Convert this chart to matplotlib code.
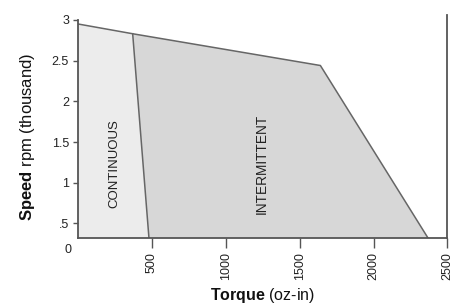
import matplotlib
matplotlib.use("Agg")
import matplotlib.pyplot as plt

plt.rcParams["font.family"] = ["Liberation Sans", "DejaVu Sans"]
plt.rcParams["mathtext.fontset"] = "custom"
plt.rcParams["mathtext.rm"] = "Liberation Sans"
plt.rcParams["mathtext.bf"] = "Liberation Sans:bold"

# envelope of the speed/torque curve (torque oz-in, speed thousand rpm)
env_torque = [0, 370, 1640, 2367]
env_speed = [2.95, 2.83, 2.44, 0.325]
# continuous boundary
cont_torque = [370, 480]
cont_speed = [2.83, 0.325]

y_ticks = [0.5, 1, 1.5, 2, 2.5, 3]
y_labels = [".5", "1", "1.5", "2", "2.5", "3"]
x_ticks = [500, 1000, 1500, 2000, 2500]
x_labels = ["500", "1000", "1500", "2000", "2500"]

y_min, y_max = 0.325, 3.06
x_min, x_max = 0, 2500

fig = plt.figure(figsize=(4.55, 3.04), dpi=100)
ax = fig.add_axes([0.1714, 0.218, 0.8121, 0.7326])

line_col = "#666666"
# continuous region
ax.fill([0, 0, cont_torque[0], cont_torque[1]],
        [y_min, env_speed[0], cont_speed[0], cont_speed[1]],
        color="#ececec", lw=0)
# intermittent region
ax.fill([cont_torque[0], env_torque[2], env_torque[3], cont_torque[1]],
        [cont_speed[0], env_speed[2], env_speed[3], cont_speed[1]],
        color="#d7d7d7", lw=0)
ax.plot(env_torque, env_speed, color=line_col, lw=1.1)
ax.plot(cont_torque, cont_speed, color=line_col, lw=1.1)

ax.text(246, 1.23, "CONTINUOUS", rotation=90, ha="center", va="center",
        fontsize=9.5, color="#222222")
ax.text(1243, 1.23, "INTERMITTENT", rotation=90, ha="center", va="center",
        fontsize=9.8, color="#222222")

ax.set_xlim(x_min, x_max)
ax.set_ylim(y_min, y_max)

for s in ["left", "bottom", "right"]:
    ax.spines[s].set_color("#555555")
    ax.spines[s].set_linewidth(1.3)
ax.spines["top"].set_visible(False)
ax.spines["left"].set_bounds(y_min, 3)

ax.set_yticks(y_ticks)
ax.set_yticklabels(y_labels)
ax.set_xticks(x_ticks)
ax.set_xticklabels(x_labels, rotation=90)
ax.tick_params(axis="y", length=3.5, width=1, color="#555555", pad=3,
               labelsize=9, labelcolor="#222222")
ax.tick_params(axis="x", length=7, width=1, color="#555555", pad=3.5,
               labelsize=9, labelcolor="#222222")

ax.annotate("0", xy=(0, y_min), xytext=(-7.2, -8.6), textcoords="offset points",
            ha="center", va="center", fontsize=9, color="#222222")

ax.set_xlabel(r"$\mathbf{Torque}$ (oz-in)", fontsize=11.5, color="#111111", labelpad=4)
ax.set_ylabel(r"$\mathbf{Speed}$ rpm (thousand)", fontsize=12, color="#111111")
ax.yaxis.set_label_coords(-0.111, 0.453)

fig.savefig("out.png", dpi=100)
